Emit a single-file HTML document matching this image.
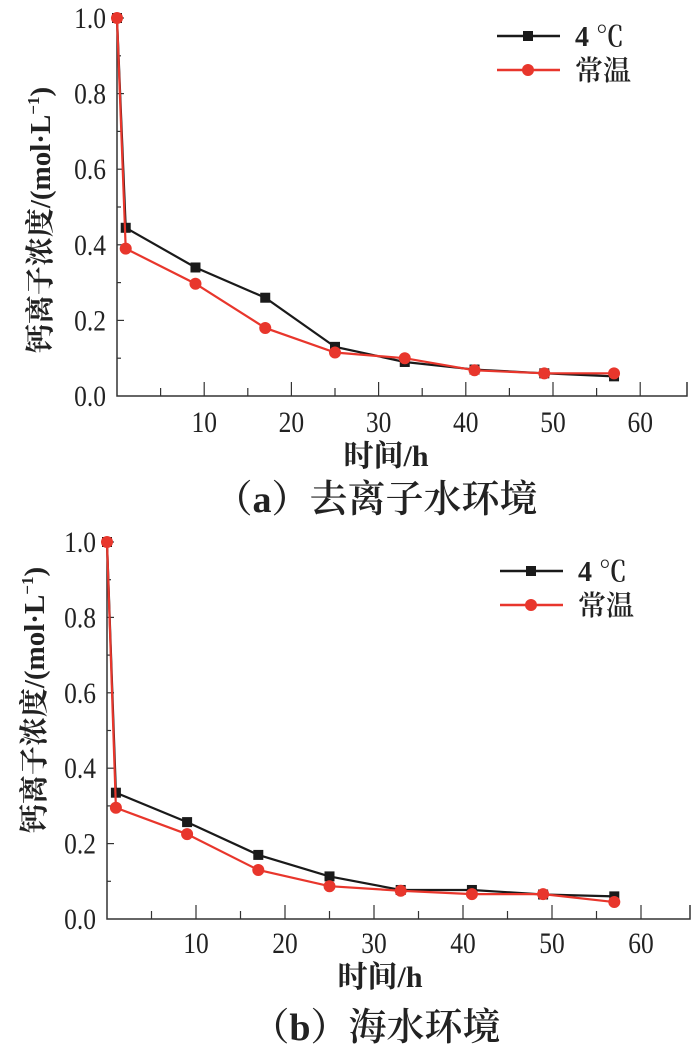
<!DOCTYPE html>
<html><head><meta charset="utf-8">
<style>
html,body{margin:0;padding:0;background:#fff;}
svg text{font-family:"Liberation Serif","Noto Serif CJK SC",serif;}
</style></head>
<body>
<svg id="fig" width="700" height="1052" viewBox="0 0 700 1052" xmlns="http://www.w3.org/2000/svg"></svg>
<script>
const hours = [0, 1, 9, 17, 25, 33, 41, 49, 57];
const xTicks = [10, 20, 30, 40, 50, 60];
const yTicks = [0.0, 0.2, 0.4, 0.6, 0.8, 1.0];
const seriesNames = ["4 ℃", "常温"];
const aCold = [1.0, 0.445, 0.34, 0.26, 0.13, 0.09, 0.07, 0.06, 0.052];
const aRoom = [1.0, 0.39, 0.297, 0.18, 0.115, 0.10, 0.068, 0.06, 0.06];
const bCold = [1.0, 0.335, 0.257, 0.17, 0.113, 0.077, 0.077, 0.065, 0.06];
const bRoom = [1.0, 0.295, 0.225, 0.13, 0.087, 0.075, 0.066, 0.066, 0.045];

const NS = "http://www.w3.org/2000/svg";
const svg = document.getElementById("fig");
function mk(tag, attrs, parent, text){
  const e = document.createElementNS(NS, tag);
  for (const k in attrs) e.setAttribute(k, attrs[k]);
  if (text !== undefined) e.textContent = text;
  (parent || svg).appendChild(e);
  return e;
}

function drawPanel(id, cfg, cold, room, caption){
  const g = mk("g", {});
  
  
  const X = v => cfg.x0 + v * cfg.px10 / 10;
  const Y = v => cfg.yb - v * (cfg.yb - cfg.yt);
  const ax = mk("path", {d:`M${cfg.x0},${cfg.yt-4} V${cfg.yb} H${cfg.xr} V${cfg.yb-14}`, stroke:"#333", "stroke-width":1.5, fill:"none"}, g);
  
  
  for (let v = 5; v <= 60; v += 5){
    const major = v % 10 === 0;
    const t = mk("line", {x1:X(v), x2:X(v), y1:cfg.yb, y2:cfg.yb-(major?14:8), stroke:"#333", "stroke-width":1.2}, g);
    
    
  }
  xTicks.forEach(v => {
    const t = mk("text", {x:X(v), y:cfg.yb+cfg.tickOff, "text-anchor":"middle", "font-size":30, fill:"#222", transform:`translate(${X(v)},0) scale(0.85,1) translate(${-X(v)},0)`}, g, String(v));
    
    
  });
  for (let i = 1; i <= 10; i++){
    const v = i / 10;
    const major = i % 2 === 0;
    const t = mk("line", {x1:cfg.x0, x2:cfg.x0+(major?7:4), y1:Y(v), y2:Y(v), stroke:"#333", "stroke-width":1.2}, g);
    
    
  }
  yTicks.forEach(v => {
    const xx = cfg.x0 - 11;
    const t = mk("text", {x:xx, y:Y(v)+10, "text-anchor":"end", "font-size":30, fill:"#222", transform:`translate(${xx},0) scale(0.85,1) translate(${-xx},0)`}, g, v.toFixed(1));
    
    
  });
  const yl = mk("text", {x:0, y:0, "text-anchor":"middle", "font-size":29, "font-weight":"bold", fill:"#222", transform:`translate(${cfg.ylx},${cfg.yly}) rotate(-90)`}, g);
  
  
  yl.textContent = "钙离子浓度/(mol·L";
  mk("tspan", {dy:-11, "font-size":17}, yl, "−1");
  mk("tspan", {dy:11}, yl, ")");
  const xl = mk("text", {x:cfg.xlx, y:cfg.xly, "text-anchor":"middle", "font-size":30, "font-weight":"bold", fill:"#222"}, g, "时间/h");
  
  
  const cap = mk("text", {x:cfg.capx, y:cfg.capy, "text-anchor":"middle", "font-size":38, "font-weight":"600", fill:"#222"}, g, caption);
  
  
  const colors = ["#1a1a1a", "#e8362c"];
  [cold, room].forEach((vals, si) => {
    const pts = hours.map((h,i) => `${X(h)},${Y(vals[i])}`).join(" ");
    const ln = mk("polyline", {points:pts, fill:"none", stroke:colors[si], "stroke-width":2.2}, g);
    
    
    hours.forEach((h,i) => {
      let m;
      if (si === 0) m = mk("rect", {x:X(h)-5, y:Y(vals[i])-5, width:10, height:10, fill:colors[0]}, g);
      else m = mk("circle", {cx:X(h), cy:Y(vals[i]), r:6, fill:colors[1]}, g);
      
      
    });
  });
  seriesNames.forEach((name, si) => {
    const ly = cfg.legY + si * 34;
    const lg = mk("g", {}, g);
    
    
    mk("line", {x1:cfg.legX, x2:cfg.legX+63, y1:ly, y2:ly, stroke:colors[si], "stroke-width":2.5}, lg);
    if (si === 0) mk("rect", {x:cfg.legX+26, y:ly-5, width:10, height:10, fill:colors[0]}, lg);
    else mk("circle", {cx:cfg.legX+31, cy:ly, r:6, fill:colors[1]}, lg);
    mk("text", {x:cfg.legX+78, y:ly+10, "font-size":28, "font-weight":"600", fill:"#222"}, lg, name);
  });
}

drawPanel("panel-a", {x0:117, px10:87.2, yb:396, yt:18, xr:687, tickOff:36, ylx:50, yly:220, xlx:386, xly:466, capx:376, capy:512, legX:497, legY:36},
  aCold, aRoom, "（a）去离子水环境");
drawPanel("panel-b", {x0:107, px10:89, yb:919, yt:542, xr:690, tickOff:34, ylx:44, yly:700, xlx:380, xly:987, capx:376, capy:1040, legX:500, legY:571},
  bCold, bRoom, "（b）海水环境");
</script>
</body></html>
